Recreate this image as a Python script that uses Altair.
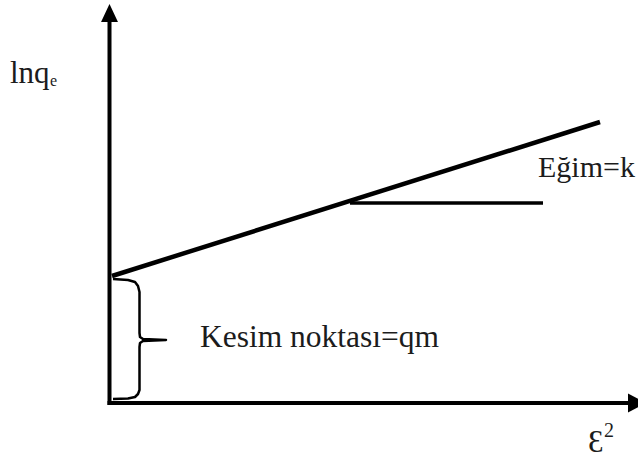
import altair as alt
import pandas as pd

W, H = 638, 459

# Schematic units: origin at the corner of the axes, one unit per pixel
X_DOMAIN = [-110, 528]
Y_DOMAIN = [-56, 403]

# Linearised isotherm: ln qe against epsilon^2
fit_x = [2, 490]
fit_y = [127, 281]

# Horizontal reference used to show the slope
slope_x = [240, 433]
slope_y = [200, 200]

# Brace marking the intercept on the ln qe axis
brace_x = [3, 18, 25, 28, 29.5, 29.5, 30, 33, 56, 33, 30, 29.5, 29.5, 28, 25, 18, 3]
brace_y = [124, 123, 121, 117, 111, 70, 66, 64, 63, 62, 60, 56, 13, 9, 6, 4.5, 4]

# Axis lines and arrow tips
axis_x = [-0.5, -2.5]
axis_y = [-2, 0]
axis_x2 = [-0.5, 518]
axis_y2 = [381, 0]
arrow_x = [-0.5, 527]
arrow_y = [390, 0]
arrow_shape = ["M0,-1L0.94,1L-0.94,1Z", "M1,0L-1,-1.05L-1,1.05Z"]

# Text labels
label_text = ["lnq", "e", "Eğim=k", "Kesim noktası=qm", "Ɛ", "2"]
label_x = [-100, -60, 428, 90, 478, 494]
label_y = [320, 317, 226, 56, -49, -34]
label_size = [31, 16, 30, 31.5, 31, 20]

SERIF = "Liberation Serif"

xs = alt.Scale(domain=X_DOMAIN, nice=False, zero=False)
ys = alt.Scale(domain=Y_DOMAIN, nice=False, zero=False)


def X(f):
    return alt.X(f, type="quantitative", scale=xs, axis=None)


def Y(f):
    return alt.Y(f, type="quantitative", scale=ys, axis=None)


axes_df = pd.DataFrame({"x": axis_x, "y": axis_y, "x2": axis_x2, "y2": axis_y2})
axes = alt.Chart(axes_df).mark_rule(color="black", strokeWidth=4).encode(
    x=X("x"), y=Y("y"), x2="x2", y2="y2"
)

arrows = [
    alt.Chart(pd.DataFrame({"x": [ax], "y": [ay]}))
    .mark_point(shape=shp, size=324, filled=True, color="black", opacity=1)
    .encode(x=X("x"), y=Y("y"))
    for ax, ay, shp in zip(arrow_x, arrow_y, arrow_shape)
]

fit = alt.Chart(pd.DataFrame({"x": fit_x, "y": fit_y})).mark_line(
    color="black", strokeWidth=4.5
).encode(x=X("x"), y=Y("y"))

slope = alt.Chart(pd.DataFrame({"x": slope_x, "y": slope_y})).mark_line(
    color="black", strokeWidth=3.5
).encode(x=X("x"), y=Y("y"))

brace_df = pd.DataFrame({"x": brace_x, "y": brace_y, "i": range(len(brace_x))})
brace = alt.Chart(brace_df).mark_line(
    color="black", strokeWidth=2.5, strokeJoin="round"
).encode(x=X("x"), y=Y("y"), order="i:Q")

labels_df = pd.DataFrame(
    {"t": label_text, "x": label_x, "y": label_y, "s": label_size}
)
labels = alt.Chart(labels_df).mark_text(
    font=SERIF, align="left", baseline="alphabetic", color="#1c1c1c"
).encode(
    x=X("x"),
    y=Y("y"),
    text="t:N",
    size=alt.Size("s:Q", scale=None, legend=None),
)

chart = (
    alt.layer(axes, *arrows, fit, slope, brace, labels)
    .properties(width=W, height=H, autosize="none", padding=0)
    .configure_view(stroke=None)
)

chart.save("out.html", embed_options={"renderer": "svg", "actions": False})
